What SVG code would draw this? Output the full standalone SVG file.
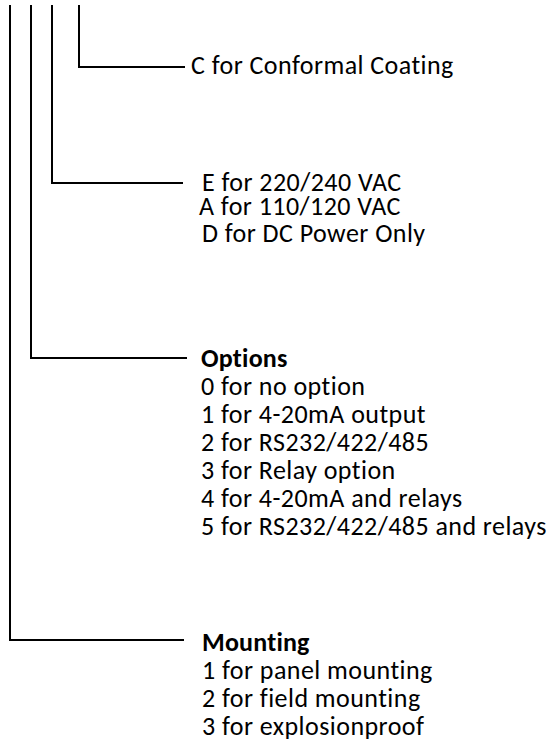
<svg xmlns="http://www.w3.org/2000/svg" width="555" height="752" viewBox="0 0 555 752">
<style>
.ln{fill:none;stroke:#000;stroke-width:2;stroke-linejoin:miter}
text{font-family:Carlito,Calibri,Lato,"Open Sans",sans-serif;font-size:26px;letter-spacing:0.45px;fill:#000}
.b{font-weight:bold;letter-spacing:0.2px}
</style>
<rect width="555" height="752" fill="#fff"/>
<g id="connectors">
<polyline class="ln" points="79,5 79,67 185,67"/>
<polyline class="ln" points="52,5 52,183 183,183"/>
<polyline class="ln" points="31,5 31,358 187,358"/>
<polyline class="ln" points="10,5 10,640 184,640"/>
</g>
<g id="coating">
<text x="191" y="74">C for Conformal Coating</text>
</g>
<g id="power">
<text x="202" y="191">E for 220/240 VAC</text>
<text x="199" y="215">A for 110/120 VAC</text>
<text x="202" y="242">D for DC Power Only</text>
</g>
<g id="options">
<text x="201" y="367" class="b">Options</text>
<text x="201" y="395">0 for no option</text>
<text x="201" y="423">1 for 4-20mA output</text>
<text x="201" y="451">2 for RS232/422/485</text>
<text x="201" y="479">3 for Relay option</text>
<text x="201" y="507">4 for 4-20mA and relays</text>
<text x="201" y="535">5 for RS232/422/485 and relays</text>
</g>
<g id="mounting">
<text x="202" y="651" class="b">Mounting</text>
<text x="202" y="679">1 for panel mounting</text>
<text x="202" y="707">2 for field mounting</text>
<text x="202" y="735">3 for explosionproof</text>
</g>
</svg>
